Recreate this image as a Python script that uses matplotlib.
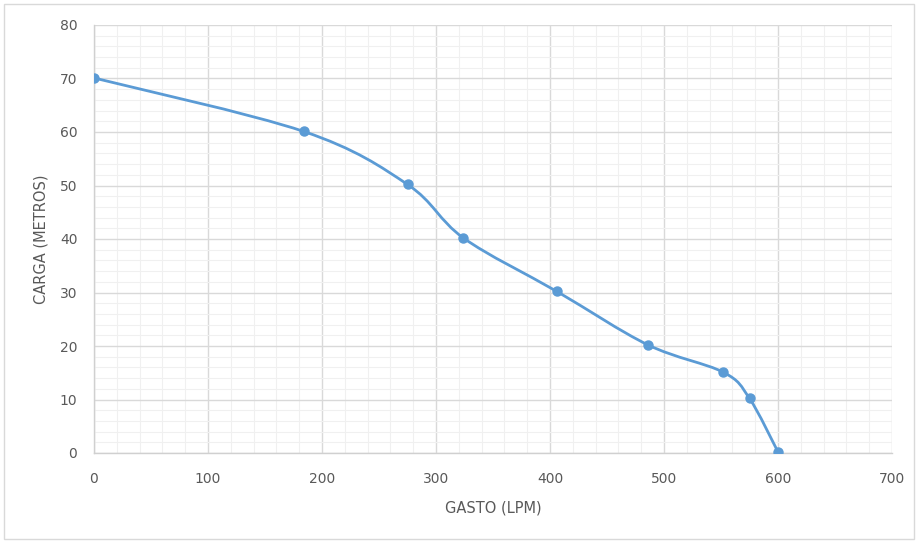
import numpy as np
import matplotlib.pyplot as plt
from matplotlib.path import Path
from matplotlib.patches import PathPatch, Rectangle
from matplotlib.ticker import MultipleLocator

gasto = [0, 184, 275, 324, 406, 486, 552, 575, 600]
carga = [70.1, 60.1, 50.2, 40.2, 30.2, 20.2, 15.1, 10.2, 0.2]

x_ticks = [0, 100, 200, 300, 400, 500, 600, 700]
y_ticks = [0, 10, 20, 30, 40, 50, 60, 70, 80]

line_color = '#5B9BD5'
text_color = '#595959'


def smooth_path(x, y):
    # excel-like smoothed line: cubic bezier through the points
    p = np.column_stack([x, y]).astype(float)
    n = len(p)
    verts = [p[0]]
    codes = [Path.MOVETO]
    for i in range(n - 1):
        p0 = p[i - 1] if i > 0 else p[i]
        p3 = p[i + 2] if i + 2 < n else p[i + 1]
        c1 = p[i] + (p[i + 1] - p0) / 6.0
        c2 = p[i + 1] - (p3 - p[i]) / 6.0
        verts += [c1, c2, p[i + 1]]
        codes += [Path.CURVE4] * 3
    return Path(verts, codes)


fig = plt.figure(figsize=(9.19, 5.43), dpi=100)
ax = fig.add_axes([94 / 919, 1 - 453 / 543, 798 / 919, 428 / 543])

ax.add_patch(PathPatch(smooth_path(gasto, carga), facecolor='none',
                       edgecolor=line_color, lw=2.0, zorder=3))
ax.plot(gasto, carga, 'o', color=line_color, ms=6.5, zorder=4)

ax.set_xlim(0, 700)
ax.set_ylim(0, 80)
ax.set_xticks(x_ticks)
ax.set_yticks(y_ticks)
ax.xaxis.set_minor_locator(MultipleLocator(20))
ax.yaxis.set_minor_locator(MultipleLocator(2))

ax.grid(which='major', color='#D9D9D9', lw=1.0)
ax.grid(which='minor', color='#F0F0F0', lw=0.8)
ax.set_axisbelow(True)

for s in ['top', 'right']:
    ax.spines[s].set_visible(False)
for s in ['left', 'bottom']:
    ax.spines[s].set_color('#D0D0D0')
    ax.spines[s].set_linewidth(1.0)

ax.tick_params(which='both', length=0, colors=text_color, labelsize=10)
ax.tick_params(axis='x', pad=14)
ax.tick_params(axis='y', pad=12)

ax.set_xlabel('GASTO (LPM)', color=text_color, fontsize=10.5, labelpad=10)
ax.set_ylabel('CARGA (METROS)', color=text_color, fontsize=10.5, labelpad=8)

fig.patches.append(Rectangle((4 / 919, 4 / 543), 910 / 919, 535 / 543,
                             transform=fig.transFigure, fill=False,
                             edgecolor='#D9D9D9', lw=1.0))

fig.savefig('out.png', dpi=100)
